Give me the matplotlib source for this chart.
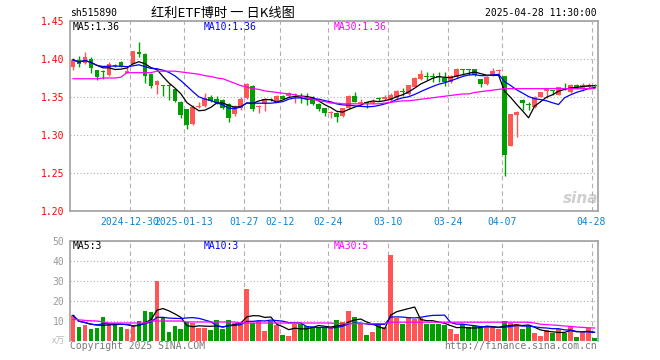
import numpy as np
import pandas as pd
import matplotlib
matplotlib.use("Agg")
import matplotlib.pyplot as plt

# 日K数据 2024-12-16 .. 2025-04-28 (88 trading days)
tick_idx = [10, 19, 29, 35, 43, 53, 63, 72, 87]
tick_labels = ["2024-12-30", "2025-01-13", "01-27", "02-12", "02-24",
               "03-10", "03-24", "04-07", "04-28"]

opens = [1.389, 1.399, 1.395, 1.400, 1.385, 1.384, 1.379, 1.392, 1.396, 1.382,
         1.394, 1.409, 1.406, 1.380, 1.3655, 1.3655, 1.3655, 1.360, 1.3438, 1.3337,
         1.315, 1.3365, 1.338, 1.350, 1.348, 1.3465, 1.341, 1.3275, 1.335, 1.349,
         1.3645, 1.337, 1.342, 1.348, 1.3447, 1.351, 1.3513, 1.352, 1.349, 1.349,
         1.3505, 1.3408, 1.335, 1.329, 1.3294, 1.325, 1.335, 1.3517, 1.3425, 1.343,
         1.342, 1.3487, 1.347, 1.3461, 1.3482, 1.3575, 1.3535, 1.3636, 1.3733, 1.3768,
         1.377, 1.377, 1.3755, 1.370, 1.3759, 1.386, 1.386, 1.3868, 1.3737, 1.367,
         1.378, 1.384, 1.3776, 1.286, 1.3265, 1.3461, 1.341, 1.3373, 1.3505, 1.3583,
         1.3587, 1.3526, 1.3628, 1.357, 1.3658, 1.3614, 1.3627, 1.3655]
highs = [1.401, 1.404, 1.409, 1.402, 1.386, 1.386, 1.396, 1.394, 1.397, 1.390,
         1.411, 1.422, 1.408, 1.381, 1.372, 1.366, 1.367, 1.361, 1.345, 1.334,
         1.339, 1.343, 1.3557, 1.352, 1.351, 1.347, 1.342, 1.339, 1.350, 1.368,
         1.366, 1.339, 1.349, 1.349, 1.352, 1.353, 1.357, 1.355, 1.355, 1.355,
         1.351, 1.342, 1.336, 1.331, 1.330, 1.336, 1.353, 1.3565, 1.347, 1.344,
         1.347, 1.350, 1.352, 1.355, 1.359, 1.3614, 1.366, 1.376, 1.3855, 1.383,
         1.382, 1.383, 1.383, 1.379, 1.388, 1.3868, 1.3868, 1.387, 1.374, 1.378,
         1.3877, 1.387, 1.378, 1.328, 1.332, 1.347, 1.344, 1.351, 1.357, 1.361,
         1.359, 1.3636, 1.368, 1.367, 1.367, 1.369, 1.368, 1.367]
lows = [1.385, 1.389, 1.394, 1.381, 1.373, 1.374, 1.377, 1.389, 1.389, 1.381,
        1.393, 1.402, 1.369, 1.362, 1.3535, 1.351, 1.3455, 1.344, 1.323, 1.3074,
        1.313, 1.335, 1.337, 1.344, 1.341, 1.334, 1.3175, 1.325, 1.333, 1.348,
        1.331, 1.329, 1.331, 1.345, 1.343, 1.347, 1.3505, 1.342, 1.3417, 1.340,
        1.339, 1.332, 1.325, 1.322, 1.3176, 1.324, 1.334, 1.343, 1.339, 1.335,
        1.341, 1.345, 1.346, 1.345, 1.346, 1.351, 1.353, 1.363, 1.373, 1.3725,
        1.370, 1.370, 1.364, 1.368, 1.375, 1.379, 1.379, 1.378, 1.3627, 1.366,
        1.377, 1.379, 1.246, 1.285, 1.298, 1.333, 1.333, 1.335, 1.350, 1.3483,
        1.352, 1.352, 1.359, 1.355, 1.360, 1.358, 1.360, 1.362]
closes = [1.399, 1.393, 1.402, 1.388, 1.376, 1.383, 1.393, 1.391, 1.390, 1.384,
          1.410, 1.407, 1.378, 1.3645, 1.371, 1.3645, 1.3645, 1.3447, 1.3263, 1.313,
          1.3368, 1.3385, 1.349, 1.3447, 1.3425, 1.336, 1.322, 1.338, 1.348, 1.3666,
          1.3337, 1.338, 1.3477, 1.346, 1.351, 1.348, 1.3548, 1.3535, 1.3487, 1.348,
          1.3404, 1.3338, 1.3285, 1.330, 1.3233, 1.335, 1.3513, 1.3439, 1.343, 1.3417,
          1.344, 1.347, 1.350, 1.3526, 1.3583, 1.357, 1.3658, 1.3746, 1.3798, 1.3766,
          1.3765, 1.3765, 1.370, 1.3777, 1.387, 1.3855, 1.3855, 1.3789, 1.367, 1.3767,
          1.3847, 1.3855, 1.2737, 1.3272, 1.3305, 1.3417, 1.340, 1.3504, 1.356, 1.3605,
          1.3583, 1.3627, 1.3627, 1.3658, 1.3627, 1.3658, 1.3658, 1.3645]
# 成交量 (万手)
volumes = [12.8, 7.0, 7.8, 6.0, 6.5, 11.8, 8.3, 8.3, 7.0, 6.0,
           7.7, 10.0, 15.0, 14.3, 30.0, 11.8, 4.3, 7.3, 5.8, 9.3,
           9.0, 6.5, 6.5, 5.5, 10.3, 6.0, 10.3, 9.0, 9.0, 26.0,
           9.0, 10.0, 5.0, 10.0, 7.8, 3.0, 2.5, 8.7, 8.3, 7.7,
           7.0, 7.0, 6.7, 6.5, 10.3, 9.3, 14.8, 11.8, 8.7, 2.8,
           4.3, 7.8, 7.0, 42.8, 11.3, 8.3, 11.7, 10.8, 11.7, 8.3,
           8.3, 8.3, 7.8, 5.8, 3.3, 8.7, 7.0, 7.5, 7.0, 7.0,
           7.3, 5.8, 9.8, 9.0, 8.3, 5.8, 7.3, 4.0, 2.3, 5.3,
           4.0, 5.8, 4.0, 7.5, 1.8, 4.3, 6.5, 1.5]
# MA30 lines as drawn (history before the window not shown)
ma30 = [1.374, 1.374, 1.374, 1.374, 1.374, 1.375, 1.375, 1.375, 1.376, 1.382,
        1.382, 1.382, 1.382, 1.382, 1.384, 1.384, 1.384, 1.384, 1.383, 1.382,
        1.381, 1.380, 1.378, 1.377, 1.375, 1.374, 1.371, 1.368, 1.365, 1.363,
        1.361, 1.360, 1.358, 1.357, 1.356, 1.355, 1.354, 1.353, 1.351, 1.349,
        1.347, 1.345, 1.344, 1.342, 1.342, 1.341, 1.341, 1.341, 1.341, 1.341,
        1.341, 1.341, 1.342, 1.343, 1.344, 1.345, 1.345, 1.346, 1.347, 1.348,
        1.349, 1.350, 1.351, 1.352, 1.353, 1.354, 1.354, 1.356, 1.357, 1.358,
        1.359, 1.360, 1.361, 1.361, 1.361, 1.361, 1.361, 1.361, 1.361, 1.361,
        1.361, 1.361, 1.361, 1.361, 1.361, 1.361, 1.361, 1.361]
vol_ma30 = [10.8, 10.6, 10.3, 10.1, 10.0, 9.6, 9.0, 9.0, 9.0, 9.0,
            9.0, 9.0, 9.0, 10.0, 10.0, 10.0, 10.0, 10.0, 10.0, 9.5,
            9.5, 9.5, 9.5, 9.5, 9.5, 9.5, 9.5, 9.5, 9.0, 9.0,
            9.0, 9.0, 9.0, 9.0, 9.0, 9.0, 9.0, 9.0, 9.0, 9.0,
            9.0, 9.0, 9.0, 9.0, 8.7, 8.7, 8.7, 8.7, 8.7, 8.7,
            8.7, 8.7, 8.7, 9.4, 9.4, 9.4, 9.4, 9.4, 9.4, 9.4,
            9.4, 9.4, 9.4, 9.4, 9.4, 9.4, 9.4, 9.4, 9.4, 9.4,
            9.4, 9.4, 9.4, 9.4, 9.4, 9.4, 9.4, 9.0, 8.4, 8.2,
            8.0, 7.8, 7.5, 7.3, 7.0, 6.8, 6.6, 6.5]

RED = "#ff5555"
GREEN = "#009f00"
GRID = "#b0b0b0"
FRAME = "#a0a0a0"
DATE_C = "#0a84d6"
MONO = "DejaVu Sans Mono"

df = pd.DataFrame({"o": opens, "h": highs, "l": lows, "c": closes, "v": volumes})
df["ma5"] = df["c"].rolling(5, min_periods=1).mean()
df["ma10"] = df["c"].rolling(10, min_periods=1).mean()
df["vma5"] = df["v"].rolling(5, min_periods=1).mean()
df["vma10"] = df["v"].rolling(10, min_periods=1).mean()
x = np.arange(len(df))
up = df["c"] >= df["o"]
colors = np.where(up, RED, GREEN)

W, H = 660, 360
fig = plt.figure(figsize=(6.6, 3.6), dpi=100)


def box(l, t, r, b):
    return [l / W, 1 - b / H, (r - l) / W, (b - t) / H]


def fx(px, py):
    return px / W, 1 - py / H


ax = fig.add_axes(box(70, 21, 597.5, 211))
axv = fig.add_axes(box(70, 241, 597.5, 341))

# candles
body_lo = np.minimum(df["o"], df["c"])
body_h = np.maximum((df["c"] - df["o"]).abs(), 0.0008)
ax.vlines(x, df["l"], df["h"], colors=colors, lw=1.0, zorder=3)
ax.bar(x, body_h, bottom=body_lo, width=0.8, color=colors, lw=0, zorder=4)
ax.plot(x, df["ma5"], color="black", lw=0.9, zorder=5)
ax.plot(x, df["ma10"], color="#0000ff", lw=0.9, zorder=5)
ax.plot(x, ma30, color="#ff00ff", lw=0.9, zorder=5)

ax.set_xlim(-0.5, 87.5)
ax.set_ylim(1.20, 1.45)
ax.set_yticks(np.arange(1.20, 1.451, 0.05))
ax.set_yticklabels([f"{v:.2f}" for v in np.arange(1.20, 1.451, 0.05)],
                   color="red", family=MONO, fontsize=7)
ax.set_xticks([i - 0.5 for i in tick_idx])
ax.set_xticklabels(tick_labels, color=DATE_C, family=MONO, fontsize=7)
ax.tick_params(length=0, pad=4)
ax.grid(axis="y", ls=(0, (1, 2)), color=GRID, lw=0.8)
ax.grid(axis="x", ls=(0, (4, 3)), color=GRID, lw=0.8)
ax.set_axisbelow(True)

# volume
axv.bar(x, df["v"], width=0.8, color=colors, lw=0, zorder=3)
axv.plot(x, df["vma5"], color="black", lw=0.9, zorder=4)
axv.plot(x, df["vma10"], color="#0000ff", lw=0.9, zorder=4)
axv.plot(x, vol_ma30, color="#ff00ff", lw=0.9, zorder=4)
axv.set_xlim(-0.5, 87.5)
axv.set_ylim(0, 50)
axv.set_yticks([10, 20, 30, 40, 50])
axv.set_yticklabels(["10", "20", "30", "40", "50"], color="#999999",
                    family=MONO, fontsize=7)
axv.set_xticks([i - 0.5 for i in tick_idx])
axv.set_xticklabels([])
axv.tick_params(length=0, pad=4)
axv.grid(axis="y", ls=(0, (1, 2)), color=GRID, lw=0.8)
axv.grid(axis="x", ls=(0, (4, 3)), color=GRID, lw=0.8)
axv.set_axisbelow(True)
axv.spines["bottom"].set_visible(False)

for a in (ax, axv):
    for s in a.spines.values():
        s.set_color(FRAME)
        s.set_linewidth(1.2)

# header
fig.text(*fx(70, 13), "sh515890", family=MONO, fontsize=7, va="center")
fig.text(*fx(223, 13), "红利ETF博时 一 日K线图",
         family=["Noto Sans CJK SC", "DejaVu Sans"], fontsize=9.5,
         va="center", ha="center")
fig.text(*fx(597, 13), "2025-04-28 11:30:00", family=MONO, fontsize=7,
         va="center", ha="right")

# MA labels
for px, txt, c in [(73, "MA5:1.36", "black"), (204, "MA10:1.36", "#0000ff"),
                   (334, "MA30:1.36", "#ff00ff")]:
    fig.text(*fx(px, 27), txt, family=MONO, fontsize=7, color=c, va="center")
for px, txt, c in [(73, "MA5:3", "black"), (204, "MA10:3", "#0000ff"),
                   (334, "MA30:5", "#ff00ff")]:
    fig.text(*fx(px, 246), txt, family=MONO, fontsize=7, color=c, va="center")

fig.text(*fx(65, 341), "x万", family=["Noto Sans CJK SC", "DejaVu Sans"],
         fontsize=6.5, color="#bbbbbb", ha="right", va="center")
fig.text(*fx(70, 346), "Copyright 2025 SINA.COM", family=MONO, fontsize=7,
         color="#777777", va="center")
fig.text(*fx(597, 346), "http://finance.sina.com.cn", family=MONO, fontsize=7,
         color="#777777", va="center", ha="right")
fig.text(*fx(581, 198), "sina", fontsize=11, fontweight="bold", style="italic",
         color="#bbbbbb", alpha=0.7, ha="center", va="center")

fig.savefig("out.png", dpi=100)
